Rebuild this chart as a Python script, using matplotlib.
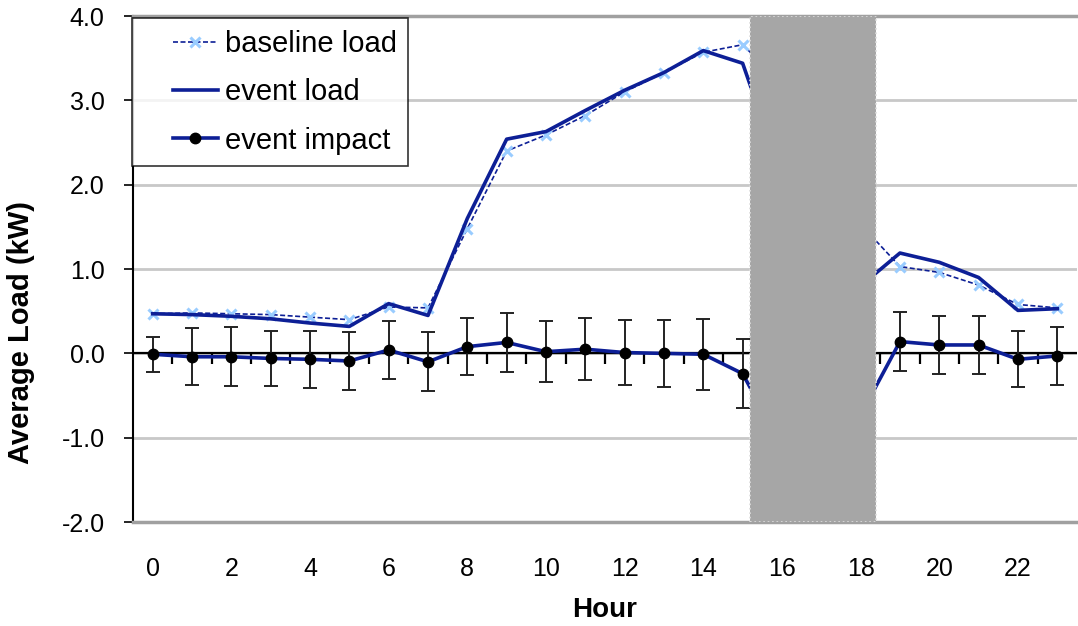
import matplotlib.pyplot as plt
import numpy as np
from matplotlib.legend_handler import HandlerLine2D

plt.rcParams['font.family'] = ['Liberation Sans', 'DejaVu Sans']
plt.rcParams['axes.unicode_minus'] = False

hours = np.arange(24)
baseline_load = [0.47, 0.48, 0.47, 0.46, 0.43, 0.40, 0.55, 0.54, 1.48, 2.40, 2.59, 2.82,
                 3.10, 3.33, 3.57, 3.66, 3.20, 2.40, 1.53, 1.03, 0.96, 0.81, 0.58, 0.54]
event_load = [0.47, 0.46, 0.44, 0.41, 0.36, 0.32, 0.59, 0.45, 1.60, 2.54, 2.63, 2.88,
              3.12, 3.33, 3.59, 3.44, 2.10, 1.40, 0.80, 1.19, 1.08, 0.90, 0.51, 0.53]
event_impact = [-0.01, -0.04, -0.04, -0.06, -0.07, -0.09, 0.04, -0.10, 0.08, 0.13, 0.02, 0.05,
                0.01, 0.00, -0.01, -0.24, -1.10, -1.00, -0.73, 0.14, 0.10, 0.10, -0.07, -0.03]
impact_err = [0.21, 0.34, 0.35, 0.33, 0.34, 0.34, 0.34, 0.35, 0.34, 0.35, 0.36, 0.37,
              0.39, 0.40, 0.42, 0.41, 0.42, 0.42, 0.40, 0.35, 0.34, 0.34, 0.33, 0.34]
event_window = (15.2, 18.38)

dark_blue = '#0d1f96'
light_blue = '#99ccff'


class RightLine(HandlerLine2D):
    # legend line drawn only on the right part of the handle box
    frac = 0.61

    def create_artists(self, legend, orig_handle, xdescent, ydescent, width, height, fontsize, trans):
        arts = super().create_artists(legend, orig_handle, xdescent, ydescent, width, height, fontsize, trans)
        right = width - xdescent
        for a in arts:
            x = np.asarray(a.get_xdata(), float)
            a.set_xdata(right - (right - x) * self.frac)
        return arts


fig = plt.figure(figsize=(10.78, 6.26), dpi=100)
ax = fig.add_axes([0.1234, 0.166, 0.8756, 0.8084])

ax.plot(hours, baseline_load, color=dark_blue, lw=1.2, ls=(0, (3, 1.5)),
        marker='x', ms=7, mec=light_blue, mew=2.2, label='baseline load', zorder=3)
ax.plot(hours, event_load, color=dark_blue, lw=2.6, label='event load', zorder=3)
ax.errorbar(hours, event_impact, yerr=impact_err, fmt='none', ecolor='#222222',
            elinewidth=1.4, capsize=5, capthick=1.4, zorder=4)
ax.plot(hours, event_impact, color=dark_blue, lw=2.6, marker='o', ms=7.5,
        mfc='black', mec='black', label='event impact', zorder=5)

# zero line with category boundary ticks
ax.axhline(0, color='black', lw=1.6, zorder=2)
ax.vlines(hours[:-1] + 0.5, -0.12, 0, color='black', lw=1.6, zorder=2)

ax.axvspan(*event_window, facecolor='#a6a6a6', edgecolor='#dddddd', ls=':', lw=1.2, zorder=6)

ax.set_xlim(-0.5, 23.5)
ax.set_ylim(-2.0, 4.0)
ax.set_yticks(np.arange(-2, 4.1, 1.0))
ax.set_yticklabels([f'{v:.1f}' for v in np.arange(-2, 4.1, 1.0)])
ax.set_xticks(hours[::2])
ax.tick_params(axis='x', length=0, labelsize=18, pad=25)
ax.tick_params(axis='y', length=6.5, width=1.2, labelsize=18, pad=14)
ax.yaxis.grid(True, color='#c8c8c8', lw=2)
ax.set_axisbelow(True)

ax.spines['right'].set_visible(False)
ax.spines['top'].set_color('#a0a0a0')
ax.spines['top'].set_linewidth(2.5)
ax.spines['bottom'].set_color('#a0a0a0')
ax.spines['bottom'].set_linewidth(2.5)
ax.spines['left'].set_color('black')
ax.spines['left'].set_linewidth(1.5)

ax.set_xlabel('Hour', fontsize=20, fontweight='bold', labelpad=12)
ax.set_ylabel('Average Load (kW)', fontsize=21, fontweight='bold')
ax.yaxis.set_label_coords(-0.104, 0.375)

leg = ax.legend(loc='upper left', bbox_to_anchor=(0.1225, 0.971), bbox_transform=fig.transFigure,
                fontsize=21, frameon=True, fancybox=False, edgecolor='black',
                borderaxespad=0, labelspacing=0.7, handlelength=2.53, handletextpad=0.25,
                borderpad=0.4, handler_map={plt.Line2D: RightLine()})
leg.get_frame().set_linewidth(1.2)
leg.set_zorder(10)

fig.savefig('out.png', dpi=100)
plt.close()
